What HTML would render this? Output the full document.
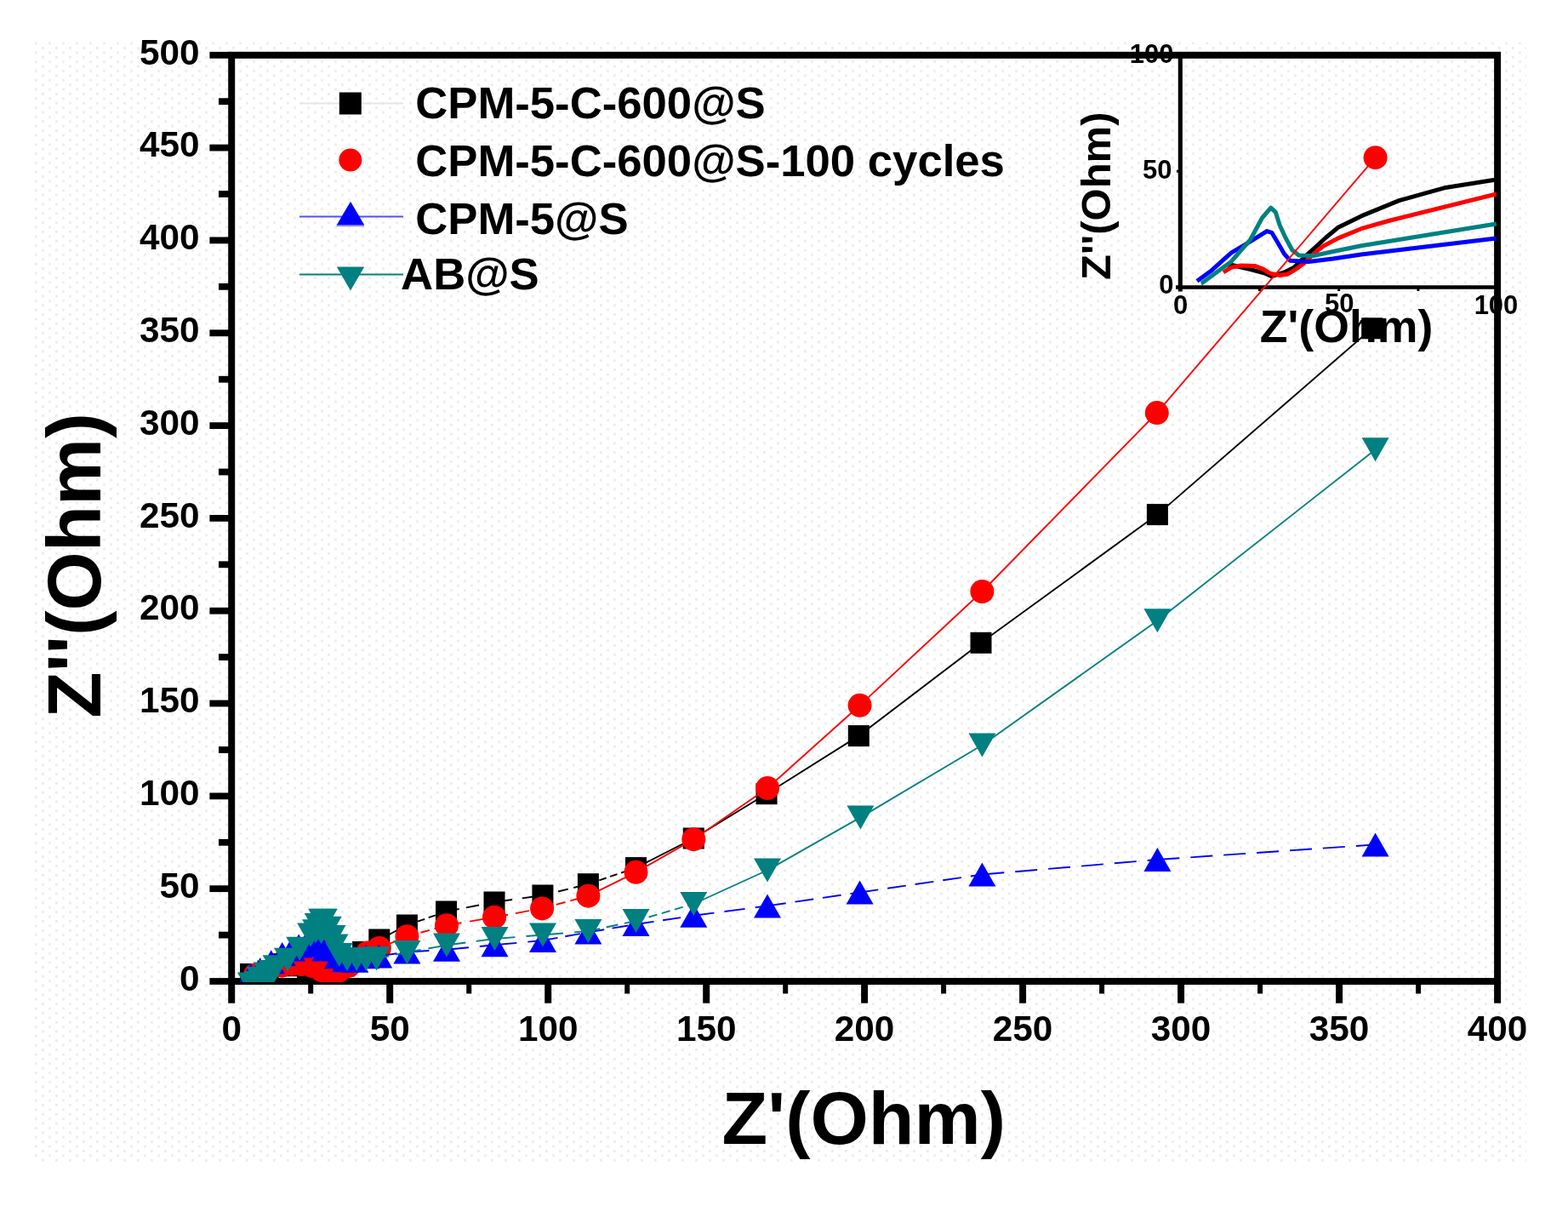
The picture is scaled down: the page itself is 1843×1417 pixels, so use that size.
<!DOCTYPE html><html><head><meta charset="utf-8"><title>Nyquist plot</title><style>html,body{margin:0;padding:0;background:#fff;}svg{display:block;}text{font-family:"Liberation Sans",Arial,sans-serif;font-weight:bold;fill:#000;}</style></head><body><svg width="1843" height="1417" viewBox="0 0 1843 1417"><defs><pattern id="dots" width="16" height="10.8" patternUnits="userSpaceOnUse"><rect x="1" y="1" width="2.8" height="2.8" fill="#ececec"/><rect x="9.1" y="6.4" width="2.8" height="2.8" fill="#ececec"/></pattern><clipPath id="plotclip"><rect x="276" y="69" width="1480" height="1085"/></clipPath><clipPath id="inclip"><rect x="1387" y="65" width="372" height="272"/></clipPath></defs><rect width="1843" height="1417" fill="#fff"/><rect x="38" y="49" width="1756" height="1316" fill="url(#dots)"/><g stroke="#000" fill="none"><rect x="272.2" y="64.8" width="1487.9" height="1088.2" stroke-width="8"/><line x1="246.4" y1="1153" x2="272" y2="1153" stroke-width="7.8"/><line x1="257" y1="1098.6" x2="272" y2="1098.6" stroke-width="7.8"/><line x1="246.4" y1="1044.2" x2="272" y2="1044.2" stroke-width="7.8"/><line x1="257" y1="989.8" x2="272" y2="989.8" stroke-width="7.8"/><line x1="246.4" y1="935.4" x2="272" y2="935.4" stroke-width="7.8"/><line x1="257" y1="881" x2="272" y2="881" stroke-width="7.8"/><line x1="246.4" y1="826.5" x2="272" y2="826.5" stroke-width="7.8"/><line x1="257" y1="772.1" x2="272" y2="772.1" stroke-width="7.8"/><line x1="246.4" y1="717.7" x2="272" y2="717.7" stroke-width="7.8"/><line x1="257" y1="663.3" x2="272" y2="663.3" stroke-width="7.8"/><line x1="246.4" y1="608.9" x2="272" y2="608.9" stroke-width="7.8"/><line x1="257" y1="554.5" x2="272" y2="554.5" stroke-width="7.8"/><line x1="246.4" y1="500.1" x2="272" y2="500.1" stroke-width="7.8"/><line x1="257" y1="445.7" x2="272" y2="445.7" stroke-width="7.8"/><line x1="246.4" y1="391.3" x2="272" y2="391.3" stroke-width="7.8"/><line x1="257" y1="336.8" x2="272" y2="336.8" stroke-width="7.8"/><line x1="246.4" y1="282.4" x2="272" y2="282.4" stroke-width="7.8"/><line x1="257" y1="228" x2="272" y2="228" stroke-width="7.8"/><line x1="246.4" y1="173.6" x2="272" y2="173.6" stroke-width="7.8"/><line x1="257" y1="119.2" x2="272" y2="119.2" stroke-width="7.8"/><line x1="246.4" y1="64.8" x2="272" y2="64.8" stroke-width="7.8"/><line x1="272.2" y1="1153" x2="272.2" y2="1178.7" stroke-width="8"/><line x1="365.2" y1="1153" x2="365.2" y2="1167.5" stroke-width="6"/><line x1="458.2" y1="1153" x2="458.2" y2="1178.7" stroke-width="8"/><line x1="551.2" y1="1153" x2="551.2" y2="1167.5" stroke-width="6"/><line x1="644.2" y1="1153" x2="644.2" y2="1178.7" stroke-width="8"/><line x1="737.2" y1="1153" x2="737.2" y2="1167.5" stroke-width="6"/><line x1="830.2" y1="1153" x2="830.2" y2="1178.7" stroke-width="8"/><line x1="923.2" y1="1153" x2="923.2" y2="1167.5" stroke-width="6"/><line x1="1016.1" y1="1153" x2="1016.1" y2="1178.7" stroke-width="8"/><line x1="1109.1" y1="1153" x2="1109.1" y2="1167.5" stroke-width="6"/><line x1="1202.1" y1="1153" x2="1202.1" y2="1178.7" stroke-width="8"/><line x1="1295.1" y1="1153" x2="1295.1" y2="1167.5" stroke-width="6"/><line x1="1388.1" y1="1153" x2="1388.1" y2="1178.7" stroke-width="8"/><line x1="1481.1" y1="1153" x2="1481.1" y2="1167.5" stroke-width="6"/><line x1="1574.1" y1="1153" x2="1574.1" y2="1178.7" stroke-width="8"/><line x1="1667.1" y1="1153" x2="1667.1" y2="1167.5" stroke-width="6"/><line x1="1760.1" y1="1153" x2="1760.1" y2="1178.7" stroke-width="8"/></g><g stroke="#000" fill="none"><line x1="1387.3" y1="62" x2="1387.3" y2="342.4" stroke-width="5.1"/><line x1="1382" y1="337.5" x2="1762" y2="337.5" stroke-width="4.6"/><line x1="1383" y1="201.2" x2="1387" y2="201.2" stroke-width="3"/><line x1="1480.5" y1="337" x2="1480.5" y2="342" stroke-width="3"/><line x1="1573.7" y1="337" x2="1573.7" y2="342" stroke-width="3"/><line x1="1666.9" y1="337" x2="1666.9" y2="342" stroke-width="3"/></g><g clip-path="url(#inclip)" fill="none" stroke-width="5" stroke-linejoin="round"><polyline points="1443.5,313.9 1448.1,311.5 1469.8,316.6 1486.9,321.2 1494.8,324.6 1509.6,320 1521,314.3 1532.4,302.9 1543.8,292.7 1558.6,279 1572.3,267.6 1600,253.9 1644.5,235.6 1697.4,220.8 1758.8,211" stroke="#000"/><polyline points="1437.9,320 1447,314.3 1458.4,312 1475.5,312.6 1483.4,315.5 1492.6,321.2 1504,323.4 1513,322.3 1521,317.7 1532.4,309.8 1543.8,298.4 1555.2,289.3 1572.3,280.1 1600,268.7 1634,259 1758.8,228" stroke="#ff0000"/><polyline points="1407,330.3 1424.2,317.7 1447,297.2 1469.8,283.6 1489.1,271.6 1494.8,273.3 1501.7,284.7 1509.6,298.4 1516.5,306.3 1538.1,307.5 1566.6,304 1600,299 1758.8,280" stroke="#0000ff"/><polyline points="1411.7,333 1412.8,332.6 1447,307.5 1469.8,281.3 1483.4,256.2 1493.7,244.2 1499.4,249.4 1504,264.2 1510.8,279 1518.8,293.8 1526.7,300 1543.8,300.6 1561,296.7 1600,288.7 1758.8,263" stroke="#008080"/></g><g clip-path="url(#plotclip)"><g fill="none" stroke="#000" stroke-width="1.9"><line x1="294.5" y1="1144.5" x2="315" y2="1141" stroke-dasharray="17.6 9.7"/><line x1="315" y1="1141" x2="331.7" y2="1132.7"/><line x1="331.7" y1="1132.7" x2="346.6" y2="1134.8" stroke-dasharray="21.2 11.7"/><line x1="346.6" y1="1134.8" x2="361.5" y2="1137.8" stroke-dasharray="14.9 8.2"/><line x1="361.5" y1="1137.8" x2="376.4" y2="1141.6" stroke-dasharray="11.7 6.4"/><line x1="376.4" y1="1141.6" x2="391.2" y2="1139.8" stroke-dasharray="24 13.2"/><line x1="391.2" y1="1139.8" x2="404.3" y2="1135" stroke-dasharray="8.2 4.5"/><line x1="404.3" y1="1135" x2="415.4" y2="1126.6"/><line x1="415.4" y1="1126.6" x2="426.6" y2="1118.5"/><line x1="426.6" y1="1118.5" x2="445.8" y2="1104"/><line x1="445.8" y1="1104" x2="478.4" y2="1087"/><line x1="478.4" y1="1087" x2="524.5" y2="1071" stroke-dasharray="8.6 4.8"/><line x1="524.5" y1="1071" x2="581" y2="1060" stroke-dasharray="15.4 8.5"/><line x1="581" y1="1060" x2="637.9" y2="1052" stroke-dasharray="21.3 11.7"/><line x1="637.9" y1="1052" x2="691.4" y2="1038.7" stroke-dasharray="12.1 6.6"/><line x1="691.4" y1="1038.7" x2="747.5" y2="1019.6" stroke-dasharray="8.8 4.8"/><line x1="747.5" y1="1019.6" x2="815.3" y2="985"/><line x1="815.3" y1="985" x2="901" y2="932.7"/><line x1="901" y1="932.7" x2="1009.3" y2="864.6"/><line x1="1009.3" y1="864.6" x2="1153" y2="755.3"/><line x1="1153" y1="755.3" x2="1360.4" y2="604.6"/><line x1="1360.4" y1="604.6" x2="1612.7" y2="385.8"/></g><rect x="282" y="1132" width="25" height="25" fill="#000"/><rect x="302.5" y="1128.5" width="25" height="25" fill="#000"/><rect x="319.2" y="1120.2" width="25" height="25" fill="#000"/><rect x="334.1" y="1122.3" width="25" height="25" fill="#000"/><rect x="349" y="1125.3" width="25" height="25" fill="#000"/><rect x="363.9" y="1129.1" width="25" height="25" fill="#000"/><rect x="378.7" y="1127.3" width="25" height="25" fill="#000"/><rect x="391.8" y="1122.5" width="25" height="25" fill="#000"/><rect x="402.9" y="1114.1" width="25" height="25" fill="#000"/><rect x="414.1" y="1106" width="25" height="25" fill="#000"/><rect x="433.3" y="1091.5" width="25" height="25" fill="#000"/><rect x="465.9" y="1074.5" width="25" height="25" fill="#000"/><rect x="512" y="1058.5" width="25" height="25" fill="#000"/><rect x="568.5" y="1047.5" width="25" height="25" fill="#000"/><rect x="625.4" y="1039.5" width="25" height="25" fill="#000"/><rect x="678.9" y="1026.2" width="25" height="25" fill="#000"/><rect x="735" y="1007.1" width="25" height="25" fill="#000"/><rect x="802.8" y="972.5" width="25" height="25" fill="#000"/><rect x="888.5" y="920.2" width="25" height="25" fill="#000"/><rect x="996.8" y="852.1" width="25" height="25" fill="#000"/><rect x="1140.5" y="742.8" width="25" height="25" fill="#000"/><rect x="1347.9" y="592.1" width="25" height="25" fill="#000"/><rect x="1600.2" y="373.3" width="25" height="25" fill="#000"/><g fill="none" stroke="#ff0000" stroke-width="1.9"><line x1="300.1" y1="1145.4" x2="313.1" y2="1142.1" stroke-dasharray="12 6.6"/><line x1="313.1" y1="1142.1" x2="331.3" y2="1134.7"/><line x1="331.3" y1="1134.7" x2="342.9" y2="1132.7" stroke-dasharray="17.3 9.5"/><line x1="342.9" y1="1132.7" x2="354" y2="1133" stroke-dasharray="24 13.2"/><line x1="354" y1="1133" x2="367.1" y2="1135.1" stroke-dasharray="17.9 9.8"/><line x1="367.1" y1="1135.1" x2="378.2" y2="1140.1"/><line x1="378.2" y1="1140.1" x2="389.4" y2="1141.7" stroke-dasharray="21.8 12"/><line x1="389.4" y1="1141.7" x2="398.7" y2="1140.4" stroke-dasharray="21.6 11.9"/><line x1="398.7" y1="1140.4" x2="409.8" y2="1134.9"/><line x1="409.8" y1="1134.9" x2="421" y2="1127.7"/><line x1="421" y1="1127.7" x2="432.1" y2="1119.4"/><line x1="432.1" y1="1119.4" x2="445.8" y2="1114" stroke-dasharray="8 4.4"/><line x1="445.8" y1="1114" x2="478.4" y2="1100.2"/><line x1="478.4" y1="1100.2" x2="525" y2="1087.2" stroke-dasharray="10.8 5.9"/><line x1="525" y1="1087.2" x2="581" y2="1077.7" stroke-dasharray="17.7 9.7"/><line x1="581" y1="1077.7" x2="637.1" y2="1067.4" stroke-dasharray="16.3 9"/><line x1="637.1" y1="1067.4" x2="691.4" y2="1052.7" stroke-dasharray="11.1 6.1"/><line x1="691.4" y1="1052.7" x2="747.5" y2="1024.8"/><line x1="747.5" y1="1024.8" x2="815.3" y2="986.2"/><line x1="815.3" y1="986.2" x2="902.1" y2="926"/><line x1="902.1" y1="926" x2="1010.6" y2="828.8"/><line x1="1010.6" y1="828.8" x2="1154.4" y2="695"/><line x1="1154.4" y1="695" x2="1359.8" y2="485.1"/><line x1="1359.8" y1="485.1" x2="1616.6" y2="185.2"/></g><circle cx="300.1" cy="1145.4" r="14" fill="#ff0000"/><circle cx="313.1" cy="1142.1" r="14" fill="#ff0000"/><circle cx="331.3" cy="1134.7" r="14" fill="#ff0000"/><circle cx="342.9" cy="1132.7" r="14" fill="#ff0000"/><circle cx="354" cy="1133" r="14" fill="#ff0000"/><circle cx="367.1" cy="1135.1" r="14" fill="#ff0000"/><circle cx="378.2" cy="1140.1" r="14" fill="#ff0000"/><circle cx="389.4" cy="1141.7" r="14" fill="#ff0000"/><circle cx="398.7" cy="1140.4" r="14" fill="#ff0000"/><circle cx="409.8" cy="1134.9" r="14" fill="#ff0000"/><circle cx="421" cy="1127.7" r="14" fill="#ff0000"/><circle cx="432.1" cy="1119.4" r="14" fill="#ff0000"/><circle cx="445.8" cy="1114" r="14" fill="#ff0000"/><circle cx="478.4" cy="1100.2" r="14" fill="#ff0000"/><circle cx="525" cy="1087.2" r="14" fill="#ff0000"/><circle cx="581" cy="1077.7" r="14" fill="#ff0000"/><circle cx="637.1" cy="1067.4" r="14" fill="#ff0000"/><circle cx="691.4" cy="1052.7" r="14" fill="#ff0000"/><circle cx="747.5" cy="1024.8" r="14" fill="#ff0000"/><circle cx="815.3" cy="986.2" r="14" fill="#ff0000"/><circle cx="902.1" cy="926" r="14" fill="#ff0000"/><circle cx="1010.6" cy="828.8" r="14" fill="#ff0000"/><circle cx="1154.4" cy="695" r="14" fill="#ff0000"/><circle cx="1359.8" cy="485.1" r="14" fill="#ff0000"/><circle cx="1616.6" cy="185.2" r="14" fill="#ff0000"/><g fill="none" stroke="#0000ff" stroke-width="1.9"><line x1="294.5" y1="1145.7" x2="305.7" y2="1139.2" stroke-dasharray="10 5"/><line x1="305.7" y1="1139.2" x2="318.7" y2="1130.2" stroke-dasharray="10 5"/><line x1="318.7" y1="1130.2" x2="331.7" y2="1120.9" stroke-dasharray="10 5"/><line x1="331.7" y1="1120.9" x2="342.9" y2="1115.5" stroke-dasharray="10 5"/><line x1="342.9" y1="1115.5" x2="351.1" y2="1111.6" stroke-dasharray="10 5"/><line x1="351.1" y1="1111.6" x2="361.5" y2="1106.5" stroke-dasharray="10 5"/><line x1="361.5" y1="1106.5" x2="370.8" y2="1107.3" stroke-dasharray="26 13"/><line x1="370.8" y1="1107.3" x2="376.4" y2="1110.6" stroke-dasharray="10 5"/><line x1="376.4" y1="1110.6" x2="382.3" y2="1115.6" stroke-dasharray="10 5"/><line x1="382.3" y1="1115.6" x2="389.4" y2="1115.1" stroke-dasharray="26 13"/><line x1="389.4" y1="1115.1" x2="396.8" y2="1124.2" stroke-dasharray="10 5"/><line x1="396.8" y1="1124.2" x2="406.1" y2="1128.3" stroke-dasharray="10 5"/><line x1="406.1" y1="1128.3" x2="417.3" y2="1128.8" stroke-dasharray="26 13"/><line x1="417.3" y1="1128.8" x2="430.3" y2="1124.3" stroke-dasharray="10 5"/><line x1="430.3" y1="1124.3" x2="445.2" y2="1123.4" stroke-dasharray="26 13"/><line x1="445.2" y1="1123.4" x2="478.4" y2="1118.5" stroke-dasharray="21.7 10.8"/><line x1="478.4" y1="1118.5" x2="525" y2="1115.7" stroke-dasharray="26 13"/><line x1="525" y1="1115.7" x2="581.5" y2="1110.3" stroke-dasharray="26 13"/><line x1="581.5" y1="1110.3" x2="638" y2="1105" stroke-dasharray="26 13"/><line x1="638" y1="1105" x2="691.4" y2="1095.4" stroke-dasharray="17.8 8.9"/><line x1="691.4" y1="1095.4" x2="747.5" y2="1086" stroke-dasharray="19.1 9.5"/><line x1="747.5" y1="1086" x2="815.3" y2="1075.8" stroke-dasharray="21.3 10.6"/><line x1="815.3" y1="1075.8" x2="902" y2="1064.4" stroke-dasharray="24.3 12.2"/><line x1="902" y1="1064.4" x2="1010.6" y2="1048.5" stroke-dasharray="21.9 10.9"/><line x1="1010.6" y1="1048.5" x2="1154.4" y2="1027.5" stroke-dasharray="21.9 11"/><line x1="1154.4" y1="1027.5" x2="1360.4" y2="1010" stroke-dasharray="26 13"/><line x1="1360.4" y1="1010" x2="1616.6" y2="992.4" stroke-dasharray="26 13"/></g><polygon points="294.5,1131.7 310.5,1159.7 278.5,1159.7" fill="#0000ff"/><polygon points="305.7,1125.2 321.7,1153.2 289.7,1153.2" fill="#0000ff"/><polygon points="318.7,1116.2 334.7,1144.2 302.7,1144.2" fill="#0000ff"/><polygon points="331.7,1106.9 347.7,1134.9 315.7,1134.9" fill="#0000ff"/><polygon points="342.9,1101.5 358.9,1129.5 326.9,1129.5" fill="#0000ff"/><polygon points="351.1,1097.6 367.1,1125.6 335.1,1125.6" fill="#0000ff"/><polygon points="361.5,1092.5 377.5,1120.5 345.5,1120.5" fill="#0000ff"/><polygon points="370.8,1093.3 386.8,1121.3 354.8,1121.3" fill="#0000ff"/><polygon points="376.4,1096.6 392.4,1124.6 360.4,1124.6" fill="#0000ff"/><polygon points="382.3,1101.6 398.3,1129.6 366.3,1129.6" fill="#0000ff"/><polygon points="389.4,1101.1 405.4,1129.1 373.4,1129.1" fill="#0000ff"/><polygon points="396.8,1110.2 412.8,1138.2 380.8,1138.2" fill="#0000ff"/><polygon points="406.1,1114.3 422.1,1142.3 390.1,1142.3" fill="#0000ff"/><polygon points="417.3,1114.8 433.3,1142.8 401.3,1142.8" fill="#0000ff"/><polygon points="430.3,1110.3 446.3,1138.3 414.3,1138.3" fill="#0000ff"/><polygon points="445.2,1109.4 461.2,1137.4 429.2,1137.4" fill="#0000ff"/><polygon points="478.4,1104.5 494.4,1132.5 462.4,1132.5" fill="#0000ff"/><polygon points="525,1101.7 541,1129.7 509,1129.7" fill="#0000ff"/><polygon points="581.5,1096.3 597.5,1124.3 565.5,1124.3" fill="#0000ff"/><polygon points="638,1091 654,1119 622,1119" fill="#0000ff"/><polygon points="691.4,1081.4 707.4,1109.4 675.4,1109.4" fill="#0000ff"/><polygon points="747.5,1072 763.5,1100 731.5,1100" fill="#0000ff"/><polygon points="815.3,1061.8 831.3,1089.8 799.3,1089.8" fill="#0000ff"/><polygon points="902,1050.4 918,1078.4 886,1078.4" fill="#0000ff"/><polygon points="1010.6,1034.5 1026.6,1062.5 994.6,1062.5" fill="#0000ff"/><polygon points="1154.4,1013.5 1170.4,1041.5 1138.4,1041.5" fill="#0000ff"/><polygon points="1360.4,996 1376.4,1024 1344.4,1024" fill="#0000ff"/><polygon points="1616.6,978.4 1632.6,1006.4 1600.6,1006.4" fill="#0000ff"/><g fill="none" stroke="#008080" stroke-width="1.9"><line x1="294.9" y1="1156.5" x2="302.7" y2="1154.7" stroke-dasharray="13.5 7.4"/><line x1="302.7" y1="1154.7" x2="310.1" y2="1151.7"/><line x1="310.1" y1="1151.7" x2="317.6" y2="1148.6"/><line x1="317.6" y1="1148.6" x2="305.7" y2="1149.7" stroke-dasharray="24 13.2"/><line x1="305.7" y1="1149.7" x2="313.9" y2="1144.5"/><line x1="313.9" y1="1144.5" x2="319.8" y2="1142.1"/><line x1="319.8" y1="1142.1" x2="324.6" y2="1136.2"/><line x1="324.6" y1="1136.2" x2="338" y2="1127.8"/><line x1="338" y1="1127.8" x2="352.2" y2="1114.7"/><line x1="352.2" y1="1114.7" x2="365.2" y2="1098.6"/><line x1="365.2" y1="1098.6" x2="371.1" y2="1094.2"/><line x1="371.1" y1="1094.2" x2="373.7" y2="1087.1"/><line x1="373.7" y1="1087.1" x2="378.2" y2="1081.8"/><line x1="378.2" y1="1081.8" x2="380.8" y2="1081.8" stroke-dasharray="24 13.2"/><line x1="380.8" y1="1081.8" x2="377.5" y2="1095.3"/><line x1="377.5" y1="1095.3" x2="385.7" y2="1090.8"/><line x1="385.7" y1="1090.8" x2="390.5" y2="1101"/><line x1="390.5" y1="1101" x2="393.5" y2="1111.6"/><line x1="393.5" y1="1111.6" x2="398.7" y2="1121.9"/><line x1="398.7" y1="1121.9" x2="408" y2="1126.9"/><line x1="408" y1="1126.9" x2="419.1" y2="1127.1" stroke-dasharray="24 13.2"/><line x1="419.1" y1="1127.1" x2="430.3" y2="1126.9" stroke-dasharray="24 13.2"/><line x1="430.3" y1="1126.9" x2="442.6" y2="1126.2" stroke-dasharray="24 13.2"/><line x1="442.6" y1="1126.2" x2="478.4" y2="1119" stroke-dasharray="14.9 8.2"/><line x1="478.4" y1="1119" x2="525" y2="1110.5" stroke-dasharray="16.4 9"/><line x1="525" y1="1110.5" x2="581.5" y2="1103" stroke-dasharray="22.6 12.4"/><line x1="581.5" y1="1103" x2="638" y2="1098.5" stroke-dasharray="24 13.2"/><line x1="638" y1="1098.5" x2="691.4" y2="1094" stroke-dasharray="24 13.2"/><line x1="691.4" y1="1094" x2="747.5" y2="1082" stroke-dasharray="14 7.7"/><line x1="747.5" y1="1082" x2="815.3" y2="1062" stroke-dasharray="10.2 5.6"/><line x1="815.3" y1="1062" x2="902" y2="1022.5"/><line x1="902" y1="1022.5" x2="1011.4" y2="960.4"/><line x1="1011.4" y1="960.4" x2="1154.4" y2="875.5"/><line x1="1154.4" y1="875.5" x2="1360.4" y2="729.2"/><line x1="1360.4" y1="729.2" x2="1616.6" y2="528.3"/></g><polygon points="278.9,1142.5 310.9,1142.5 294.9,1170.5" fill="#008080"/><polygon points="286.7,1140.7 318.7,1140.7 302.7,1168.7" fill="#008080"/><polygon points="294.1,1137.7 326.1,1137.7 310.1,1165.7" fill="#008080"/><polygon points="301.6,1134.6 333.6,1134.6 317.6,1162.6" fill="#008080"/><polygon points="289.7,1135.7 321.7,1135.7 305.7,1163.7" fill="#008080"/><polygon points="297.9,1130.5 329.9,1130.5 313.9,1158.5" fill="#008080"/><polygon points="303.8,1128.1 335.8,1128.1 319.8,1156.1" fill="#008080"/><polygon points="308.6,1122.2 340.6,1122.2 324.6,1150.2" fill="#008080"/><polygon points="322,1113.8 354,1113.8 338,1141.8" fill="#008080"/><polygon points="336.2,1100.7 368.2,1100.7 352.2,1128.7" fill="#008080"/><polygon points="349.2,1084.6 381.2,1084.6 365.2,1112.6" fill="#008080"/><polygon points="355.1,1080.2 387.1,1080.2 371.1,1108.2" fill="#008080"/><polygon points="357.7,1073.1 389.7,1073.1 373.7,1101.1" fill="#008080"/><polygon points="362.2,1067.8 394.2,1067.8 378.2,1095.8" fill="#008080"/><polygon points="364.8,1067.8 396.8,1067.8 380.8,1095.8" fill="#008080"/><polygon points="361.5,1081.3 393.5,1081.3 377.5,1109.3" fill="#008080"/><polygon points="369.7,1076.8 401.7,1076.8 385.7,1104.8" fill="#008080"/><polygon points="374.5,1087 406.5,1087 390.5,1115" fill="#008080"/><polygon points="377.5,1097.6 409.5,1097.6 393.5,1125.6" fill="#008080"/><polygon points="382.7,1107.9 414.7,1107.9 398.7,1135.9" fill="#008080"/><polygon points="392,1112.9 424,1112.9 408,1140.9" fill="#008080"/><polygon points="403.1,1113.1 435.1,1113.1 419.1,1141.1" fill="#008080"/><polygon points="414.3,1112.9 446.3,1112.9 430.3,1140.9" fill="#008080"/><polygon points="426.6,1112.2 458.6,1112.2 442.6,1140.2" fill="#008080"/><polygon points="462.4,1105 494.4,1105 478.4,1133" fill="#008080"/><polygon points="509,1096.5 541,1096.5 525,1124.5" fill="#008080"/><polygon points="565.5,1089 597.5,1089 581.5,1117" fill="#008080"/><polygon points="622,1084.5 654,1084.5 638,1112.5" fill="#008080"/><polygon points="675.4,1080 707.4,1080 691.4,1108" fill="#008080"/><polygon points="731.5,1068 763.5,1068 747.5,1096" fill="#008080"/><polygon points="799.3,1048 831.3,1048 815.3,1076" fill="#008080"/><polygon points="886,1008.5 918,1008.5 902,1036.5" fill="#008080"/><polygon points="995.4,946.4 1027.4,946.4 1011.4,974.4" fill="#008080"/><polygon points="1138.4,861.5 1170.4,861.5 1154.4,889.5" fill="#008080"/><polygon points="1344.4,715.2 1376.4,715.2 1360.4,743.2" fill="#008080"/><polygon points="1600.6,514.3 1632.6,514.3 1616.6,542.3" fill="#008080"/></g><text x="234.6" y="1163.7" font-size="42.3" text-anchor="end">0</text><text x="234.6" y="1054.9" font-size="42.3" text-anchor="end">50</text><text x="234.6" y="946.1" font-size="42.3" text-anchor="end">100</text><text x="234.6" y="837.2" font-size="42.3" text-anchor="end">150</text><text x="234.6" y="728.4" font-size="42.3" text-anchor="end">200</text><text x="234.6" y="619.6" font-size="42.3" text-anchor="end">250</text><text x="234.6" y="510.8" font-size="42.3" text-anchor="end">300</text><text x="234.6" y="402" font-size="42.3" text-anchor="end">350</text><text x="234.6" y="293.1" font-size="42.3" text-anchor="end">400</text><text x="234.6" y="184.3" font-size="42.3" text-anchor="end">450</text><text x="234.6" y="75.5" font-size="42.3" text-anchor="end">500</text><text x="272.2" y="1223" font-size="42.3" text-anchor="middle">0</text><text x="458.2" y="1223" font-size="42.3" text-anchor="middle">50</text><text x="644.2" y="1223" font-size="42.3" text-anchor="middle">100</text><text x="830.2" y="1223" font-size="42.3" text-anchor="middle">150</text><text x="1016.1" y="1223" font-size="42.3" text-anchor="middle">200</text><text x="1202.1" y="1223" font-size="42.3" text-anchor="middle">250</text><text x="1388.1" y="1223" font-size="42.3" text-anchor="middle">300</text><text x="1574.1" y="1223" font-size="42.3" text-anchor="middle">350</text><text x="1760.1" y="1223" font-size="42.3" text-anchor="middle">400</text><text x="848.6" y="1343.6" font-size="87.9">Z'(Ohm)</text><text transform="translate(118.2,843.8) rotate(-90)" font-size="89">Z''(Ohm)</text><line x1="352" y1="121.6" x2="474" y2="121.6" stroke="#e6e6e6" stroke-width="2"/><rect x="398.8" y="108.5" width="26" height="26" fill="#000"/><circle cx="411.8" cy="188" r="13.5" fill="#ff0000"/><line x1="352" y1="254.6" x2="474" y2="254.6" stroke="#5050ff" stroke-width="2"/><rect x="395.6" y="263.6" width="32.4" height="2.6" fill="#9090ff"/><polygon points="412,236.8 428.2,264.2 395.8,264.2" fill="#0000ff"/><line x1="352" y1="322.5" x2="474" y2="322.5" stroke="#008080" stroke-width="2.2"/><polygon points="395.8,313.5 428.2,313.5 412,341.5" fill="#008080"/><text x="488.2" y="139" font-size="52.7">CPM-5-C-600@S</text><text x="488.2" y="206.8" font-size="52.7">CPM-5-C-600@S-100 cycles</text><text x="488.2" y="274.6" font-size="52.7">CPM-5@S</text><text x="471.1" y="339.8" font-size="52.7">AB@S</text><text x="1379.6" y="73.6" font-size="31" text-anchor="end">100</text><text x="1377.5" y="210.4" font-size="31" text-anchor="end">50</text><text x="1379.6" y="344.8" font-size="31" text-anchor="end">0</text><text x="1387.6" y="368.9" font-size="31" text-anchor="middle">0</text><text x="1574.2" y="366.8" font-size="31" text-anchor="middle">50</text><text x="1758.5" y="368.9" font-size="31" text-anchor="middle">100</text><text x="1480.8" y="401.8" font-size="53.7">Z'(Ohm)</text><text transform="translate(1305.4,329) rotate(-90)" font-size="49">Z''(Ohm)</text></svg></body></html>
